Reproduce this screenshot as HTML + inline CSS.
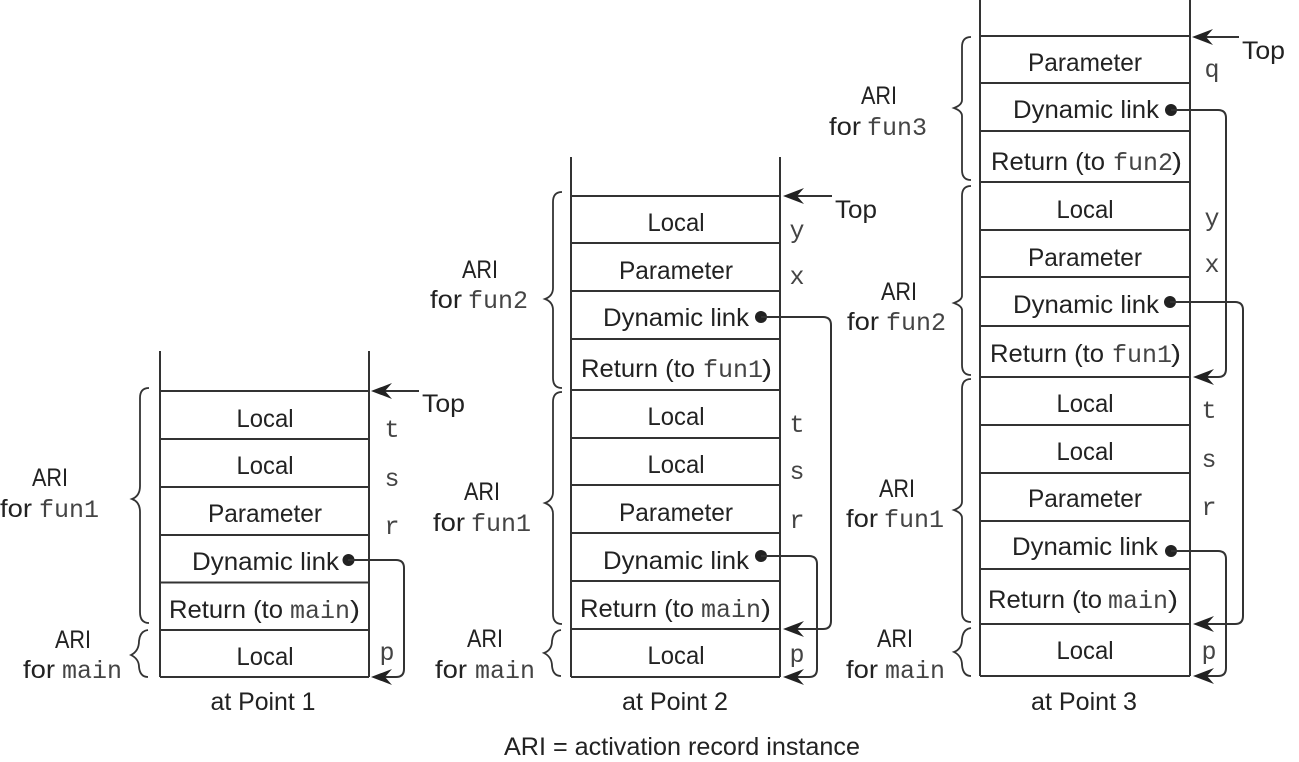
<!DOCTYPE html>
<html><head><meta charset="utf-8"><style>
html,body{margin:0;padding:0;background:#fff}
svg{display:block}
text{font-family:"Liberation Sans",sans-serif;font-size:25px;fill:#222}
.m{font-family:"Liberation Mono",monospace;font-size:25px;fill:#444}
.c{text-anchor:middle}
.l{stroke:#333;stroke-width:2;fill:none}
.b{stroke:#333;stroke-width:1.8;fill:none}
.a{fill:#222;stroke:none}
.d{fill:#222;stroke:none}
</style></head><body>
<svg width="1299" height="762" viewBox="0 0 1299 762" xmlns="http://www.w3.org/2000/svg">
<defs><path id="h" d="M0 0L21 -8L14 0L21 8Z"/></defs>

<!-- Stack 1 -->
<path class="l" d="M160 351V677M369 351V677M160 391H369M160 439H369M160 487H369M160 535H369M160 582.500H369M160 630H369M160 677H369"/>
<text class="c" x="265" y="427" textLength="57" lengthAdjust="spacingAndGlyphs">Local</text>
<text class="c" x="265" y="474" textLength="57" lengthAdjust="spacingAndGlyphs">Local</text>
<text class="c" x="265" y="522" textLength="114" lengthAdjust="spacingAndGlyphs">Parameter</text>
<text x="192" y="570" textLength="147" lengthAdjust="spacingAndGlyphs">Dynamic link</text>
<text x="169" y="618" textLength="114" lengthAdjust="spacingAndGlyphs">Return (to</text><text class="m" x="290" y="618">main</text><text x="350" y="618" textLength="10" lengthAdjust="spacingAndGlyphs">)</text>
<text class="c" x="265" y="665" textLength="57" lengthAdjust="spacingAndGlyphs">Local</text>
<text class="m c" x="392" y="437">t</text><text class="m c" x="392" y="486">s</text><text class="m c" x="392" y="534">r</text><text class="m c" x="387" y="660">p</text>
<text class="c" x="263" y="710" textLength="105" lengthAdjust="spacingAndGlyphs">at Point 1</text>
<text x="32" y="486" textLength="36" lengthAdjust="spacingAndGlyphs">ARI</text>
<text x="0" y="517" textLength="32" lengthAdjust="spacingAndGlyphs">for</text><text class="m" x="39" y="517">fun1</text>
<text x="55" y="648" textLength="36" lengthAdjust="spacingAndGlyphs">ARI</text>
<text x="23" y="678" textLength="32" lengthAdjust="spacingAndGlyphs">for</text><text class="m" x="62" y="678">main</text>
<text x="422" y="412" textLength="43" lengthAdjust="spacingAndGlyphs">Top</text>
<path class="l" d="M374 391H419"/><use href="#h" x="371" y="391" class="a"/>
<circle class="d" cx="348.500" cy="560" r="6"/>
<path class="l" d="M348 560H396Q404 560 404 568V669Q404 677 396 677H374"/><use href="#h" x="371" y="677" class="a"/>
<path class="b" d="M149 388Q140 388 140 398V486Q140 496 132 499Q140 502 140 512V612Q140 623 149 623"/>
<path class="b" d="M148 630Q140 631 139 641Q139 651 131 655Q139 659 139 667Q140 677 148 677"/>

<!-- Stack 2 -->
<path class="l" d="M571 157V677M780 157V677M571 196H780M571 243H780M571 291H780M571 339H780M571 390H780M571 438H780M571 485H780M571 533H780M571 581H780M571 629H780M571 677H780"/>
<text class="c" x="676" y="231" textLength="57" lengthAdjust="spacingAndGlyphs">Local</text>
<text class="c" x="676" y="279" textLength="114" lengthAdjust="spacingAndGlyphs">Parameter</text>
<text x="603" y="326" textLength="146" lengthAdjust="spacingAndGlyphs">Dynamic link</text>
<text x="581" y="377" textLength="114" lengthAdjust="spacingAndGlyphs">Return (to</text><text class="m" x="703" y="377">fun1</text><text x="762" y="377" textLength="10" lengthAdjust="spacingAndGlyphs">)</text>
<text class="c" x="676" y="425" textLength="57" lengthAdjust="spacingAndGlyphs">Local</text>
<text class="c" x="676" y="473" textLength="57" lengthAdjust="spacingAndGlyphs">Local</text>
<text class="c" x="676" y="521" textLength="114" lengthAdjust="spacingAndGlyphs">Parameter</text>
<text x="603" y="569" textLength="146" lengthAdjust="spacingAndGlyphs">Dynamic link</text>
<text x="580" y="617" textLength="114" lengthAdjust="spacingAndGlyphs">Return (to</text><text class="m" x="701" y="617">main</text><text x="761" y="617" textLength="10" lengthAdjust="spacingAndGlyphs">)</text>
<text class="c" x="676" y="664" textLength="57" lengthAdjust="spacingAndGlyphs">Local</text>
<text class="m c" x="797" y="238">y</text><text class="m c" x="797" y="284">x</text><text class="m c" x="797" y="432">t</text><text class="m c" x="797" y="479">s</text><text class="m c" x="797" y="528">r</text><text class="m c" x="797" y="662">p</text>
<text class="c" x="675" y="710" textLength="106" lengthAdjust="spacingAndGlyphs">at Point 2</text>
<text x="462" y="278" textLength="36" lengthAdjust="spacingAndGlyphs">ARI</text>
<text x="430" y="308" textLength="32" lengthAdjust="spacingAndGlyphs">for</text><text class="m" x="468" y="308">fun2</text>
<text x="464" y="500" textLength="36" lengthAdjust="spacingAndGlyphs">ARI</text>
<text x="433" y="531" textLength="32" lengthAdjust="spacingAndGlyphs">for</text><text class="m" x="471" y="531">fun1</text>
<text x="467" y="647" textLength="36" lengthAdjust="spacingAndGlyphs">ARI</text>
<text x="435" y="678" textLength="32" lengthAdjust="spacingAndGlyphs">for</text><text class="m" x="475" y="678">main</text>
<text x="835" y="218" textLength="42" lengthAdjust="spacingAndGlyphs">Top</text>
<path class="l" d="M786 196H832"/><use href="#h" x="783" y="196" class="a"/>
<circle class="d" cx="761" cy="317" r="6"/>
<path class="l" d="M761 317H823Q831 317 831 325V621Q831 629 823 629H786"/><use href="#h" x="783" y="629" class="a"/>
<circle class="d" cx="761" cy="556" r="6"/>
<path class="l" d="M761 556H809Q817 556 817 564V669Q817 677 809 677H786"/><use href="#h" x="783" y="677" class="a"/>
<path class="b" d="M562 192Q553 192 553 202V288Q553 296 545 299Q553 302 553 310V378Q553 388 562 388"/>
<path class="b" d="M562 392Q553 392 553 402V492Q553 500 545 503Q553 506 553 514V614Q553 624 562 624"/>
<path class="b" d="M561 630Q553 631 552 641Q552 650 544 653Q552 657 552 666Q553 676 561 676"/>

<!-- Stack 3 -->
<path class="l" d="M980 0V676M1190 0V676M980 36H1190M980 83H1190M980 131H1190M980 182H1190M980 230H1190M980 277H1190M980 326H1190M980 377H1190M980 425H1190M980 473H1190M980 521H1190M980 569H1190M980 624H1190M980 676H1190"/>
<text class="c" x="1085" y="71" textLength="114" lengthAdjust="spacingAndGlyphs">Parameter</text>
<text x="1013" y="118" textLength="146" lengthAdjust="spacingAndGlyphs">Dynamic link</text>
<text x="991" y="170" textLength="114" lengthAdjust="spacingAndGlyphs">Return (to</text><text class="m" x="1113" y="170">fun2</text><text x="1172" y="170" textLength="10" lengthAdjust="spacingAndGlyphs">)</text>
<text class="c" x="1085" y="218" textLength="57" lengthAdjust="spacingAndGlyphs">Local</text>
<text class="c" x="1085" y="266" textLength="114" lengthAdjust="spacingAndGlyphs">Parameter</text>
<text x="1013" y="313" textLength="146" lengthAdjust="spacingAndGlyphs">Dynamic link</text>
<text x="990" y="362" textLength="114" lengthAdjust="spacingAndGlyphs">Return (to</text><text class="m" x="1112" y="362">fun1</text><text x="1171" y="362" textLength="10" lengthAdjust="spacingAndGlyphs">)</text>
<text class="c" x="1085" y="412" textLength="57" lengthAdjust="spacingAndGlyphs">Local</text>
<text class="c" x="1085" y="460" textLength="57" lengthAdjust="spacingAndGlyphs">Local</text>
<text class="c" x="1085" y="507" textLength="114" lengthAdjust="spacingAndGlyphs">Parameter</text>
<text x="1012" y="555" textLength="146" lengthAdjust="spacingAndGlyphs">Dynamic link</text>
<text x="988" y="608" textLength="114" lengthAdjust="spacingAndGlyphs">Return (to</text><text class="m" x="1108" y="608">main</text><text x="1168" y="608" textLength="10" lengthAdjust="spacingAndGlyphs">)</text>
<text class="c" x="1085" y="659" textLength="57" lengthAdjust="spacingAndGlyphs">Local</text>
<text class="m c" x="1212" y="77">q</text><text class="m c" x="1212" y="226">y</text><text class="m c" x="1212" y="272">x</text><text class="m c" x="1209" y="418">t</text><text class="m c" x="1209" y="467">s</text><text class="m c" x="1209" y="515">r</text><text class="m c" x="1209" y="659">p</text>
<text class="c" x="1084" y="710" textLength="106" lengthAdjust="spacingAndGlyphs">at Point 3</text>
<text x="861" y="104" textLength="36" lengthAdjust="spacingAndGlyphs">ARI</text>
<text x="829" y="135" textLength="32" lengthAdjust="spacingAndGlyphs">for</text><text class="m" x="867" y="135">fun3</text>
<text x="881" y="300" textLength="36" lengthAdjust="spacingAndGlyphs">ARI</text>
<text x="847" y="330" textLength="32" lengthAdjust="spacingAndGlyphs">for</text><text class="m" x="886" y="330">fun2</text>
<text x="879" y="497" textLength="36" lengthAdjust="spacingAndGlyphs">ARI</text>
<text x="846" y="527" textLength="32" lengthAdjust="spacingAndGlyphs">for</text><text class="m" x="884" y="527">fun1</text>
<text x="877" y="647" textLength="36" lengthAdjust="spacingAndGlyphs">ARI</text>
<text x="846" y="678" textLength="32" lengthAdjust="spacingAndGlyphs">for</text><text class="m" x="885" y="678">main</text>
<text x="1242" y="59" textLength="43" lengthAdjust="spacingAndGlyphs">Top</text>
<path class="l" d="M1195 37H1239"/><use href="#h" x="1192" y="37" class="a"/>
<circle class="d" cx="1171" cy="110" r="6"/>
<path class="l" d="M1171 110H1218Q1226 110 1226 118V369Q1226 377 1218 377H1196"/><use href="#h" x="1193" y="377" class="a"/>
<circle class="d" cx="1170" cy="302" r="6"/>
<path class="l" d="M1170 302H1235Q1243 302 1243 310V616Q1243 624 1235 624H1196"/><use href="#h" x="1193" y="624" class="a"/>
<circle class="d" cx="1171" cy="551" r="6"/>
<path class="l" d="M1171 551H1218Q1226 551 1226 559V668Q1226 676 1218 676H1196"/><use href="#h" x="1193" y="676" class="a"/>
<path class="b" d="M971 37Q962 37 962 47V100Q962 105 954 108Q962 111 962 116V170Q962 180 971 180"/>
<path class="b" d="M971 186Q962 186 962 196V296Q962 300 954 303Q962 306 962 310V365Q962 375 971 375"/>
<path class="b" d="M971 379Q962 379 962 389V502Q962 507 954 510Q962 513 962 518V612Q962 622 971 622"/>
<path class="b" d="M971 628Q963 629 962 639Q962 649 954 652Q962 656 962 665Q963 676 971 676"/>

<text x="504" y="755" textLength="356" lengthAdjust="spacingAndGlyphs">ARI = activation record instance</text>
</svg>
</body></html>
